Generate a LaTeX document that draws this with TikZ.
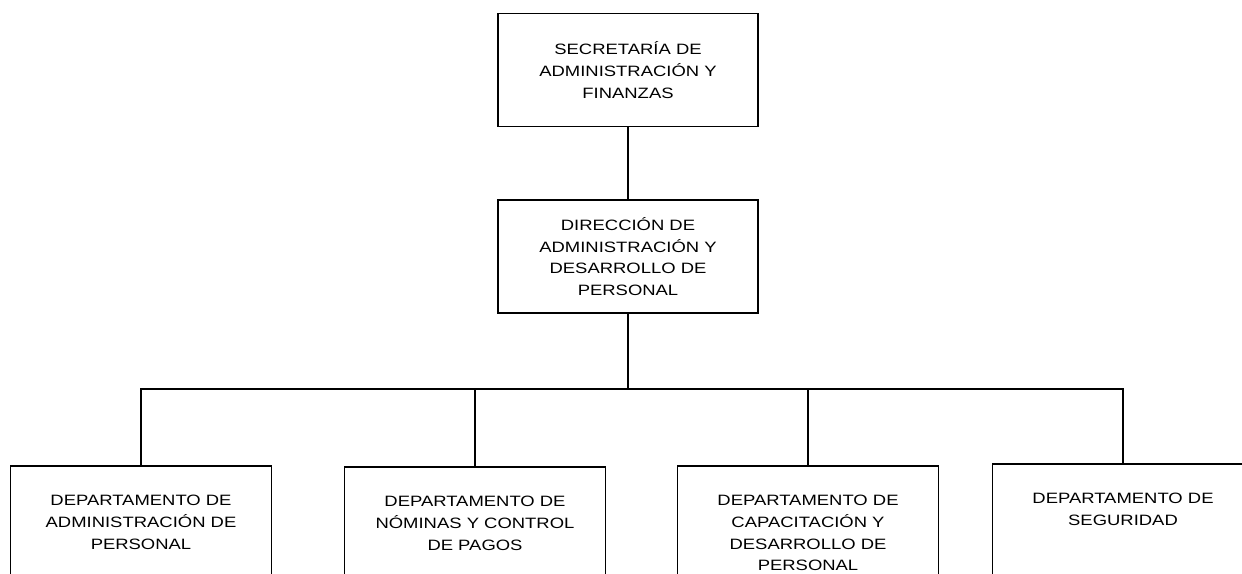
\documentclass[tikz,border=0pt]{standalone}
\usepackage{fontspec}
\setmainfont{Liberation Sans}[FakeStretch=1.23]
\begin{document}
\begin{tikzpicture}[x=1pt,y=-1pt,
		unit/.style={draw,rectangle,line width=1.5pt,minimum width=260pt,minimum height=113pt,align=center,inner sep=0pt,font=\fontsize{15}{21.7}\selectfont},
		dept/.style={draw,rectangle,line width=1.5pt,minimum width=261pt,minimum height=130pt,anchor=north},
		deptlbl/.style={align=center,anchor=north,inner sep=0pt,font=\fontsize{15}{21.7}\selectfont},
		link/.style={line width=1.5pt}]
		\clip (0,0) rectangle (1242,573);

		% upper levels
		\node[unit] (sec) at (628,70) {SECRETARÍA DE\\ADMINISTRACIÓN Y\\FINANZAS};
		\node[unit] (dir) at (628,256.5) {DIRECCIÓN DE\\ADMINISTRACIÓN Y\\DESARROLLO DE\\PERSONAL};
		\coordinate (bus) at (628,389);
		\draw[link] (sec) -- (dir);
		\draw[link] (dir) -- (bus);

		% departments
		\node[dept] (d1) at (141,465) {};
		\node[dept] (d2) at (475,466) {};
		\node[dept] (d3) at (808,465) {};
		\node[dept] (d4) at (1123,463) {};
		\node[deptlbl] (d1t) at ([yshift=-30pt]d1.north) {DEPARTAMENTO DE\\ADMINISTRACIÓN DE\\PERSONAL};
		\node[deptlbl] (d2t) at ([yshift=-30pt]d2.north) {DEPARTAMENTO DE\\NÓMINAS Y CONTROL\\DE PAGOS};
		\node[deptlbl] (d3t) at ([yshift=-30pt]d3.north) {DEPARTAMENTO DE\\CAPACITACIÓN Y\\DESARROLLO DE\\PERSONAL};
		\node[deptlbl] (d4t) at ([yshift=-30pt]d4.north) {DEPARTAMENTO DE\\SEGURIDAD};

		\draw[link] (d1.north) -- (d1.north |- bus) -- (d4.north |- bus) -- (d4.north);
		\draw[link] (d2.north) -- (d2.north |- bus);
		\draw[link] (d3.north) -- (d3.north |- bus);
	\end{tikzpicture}
\end{document}
